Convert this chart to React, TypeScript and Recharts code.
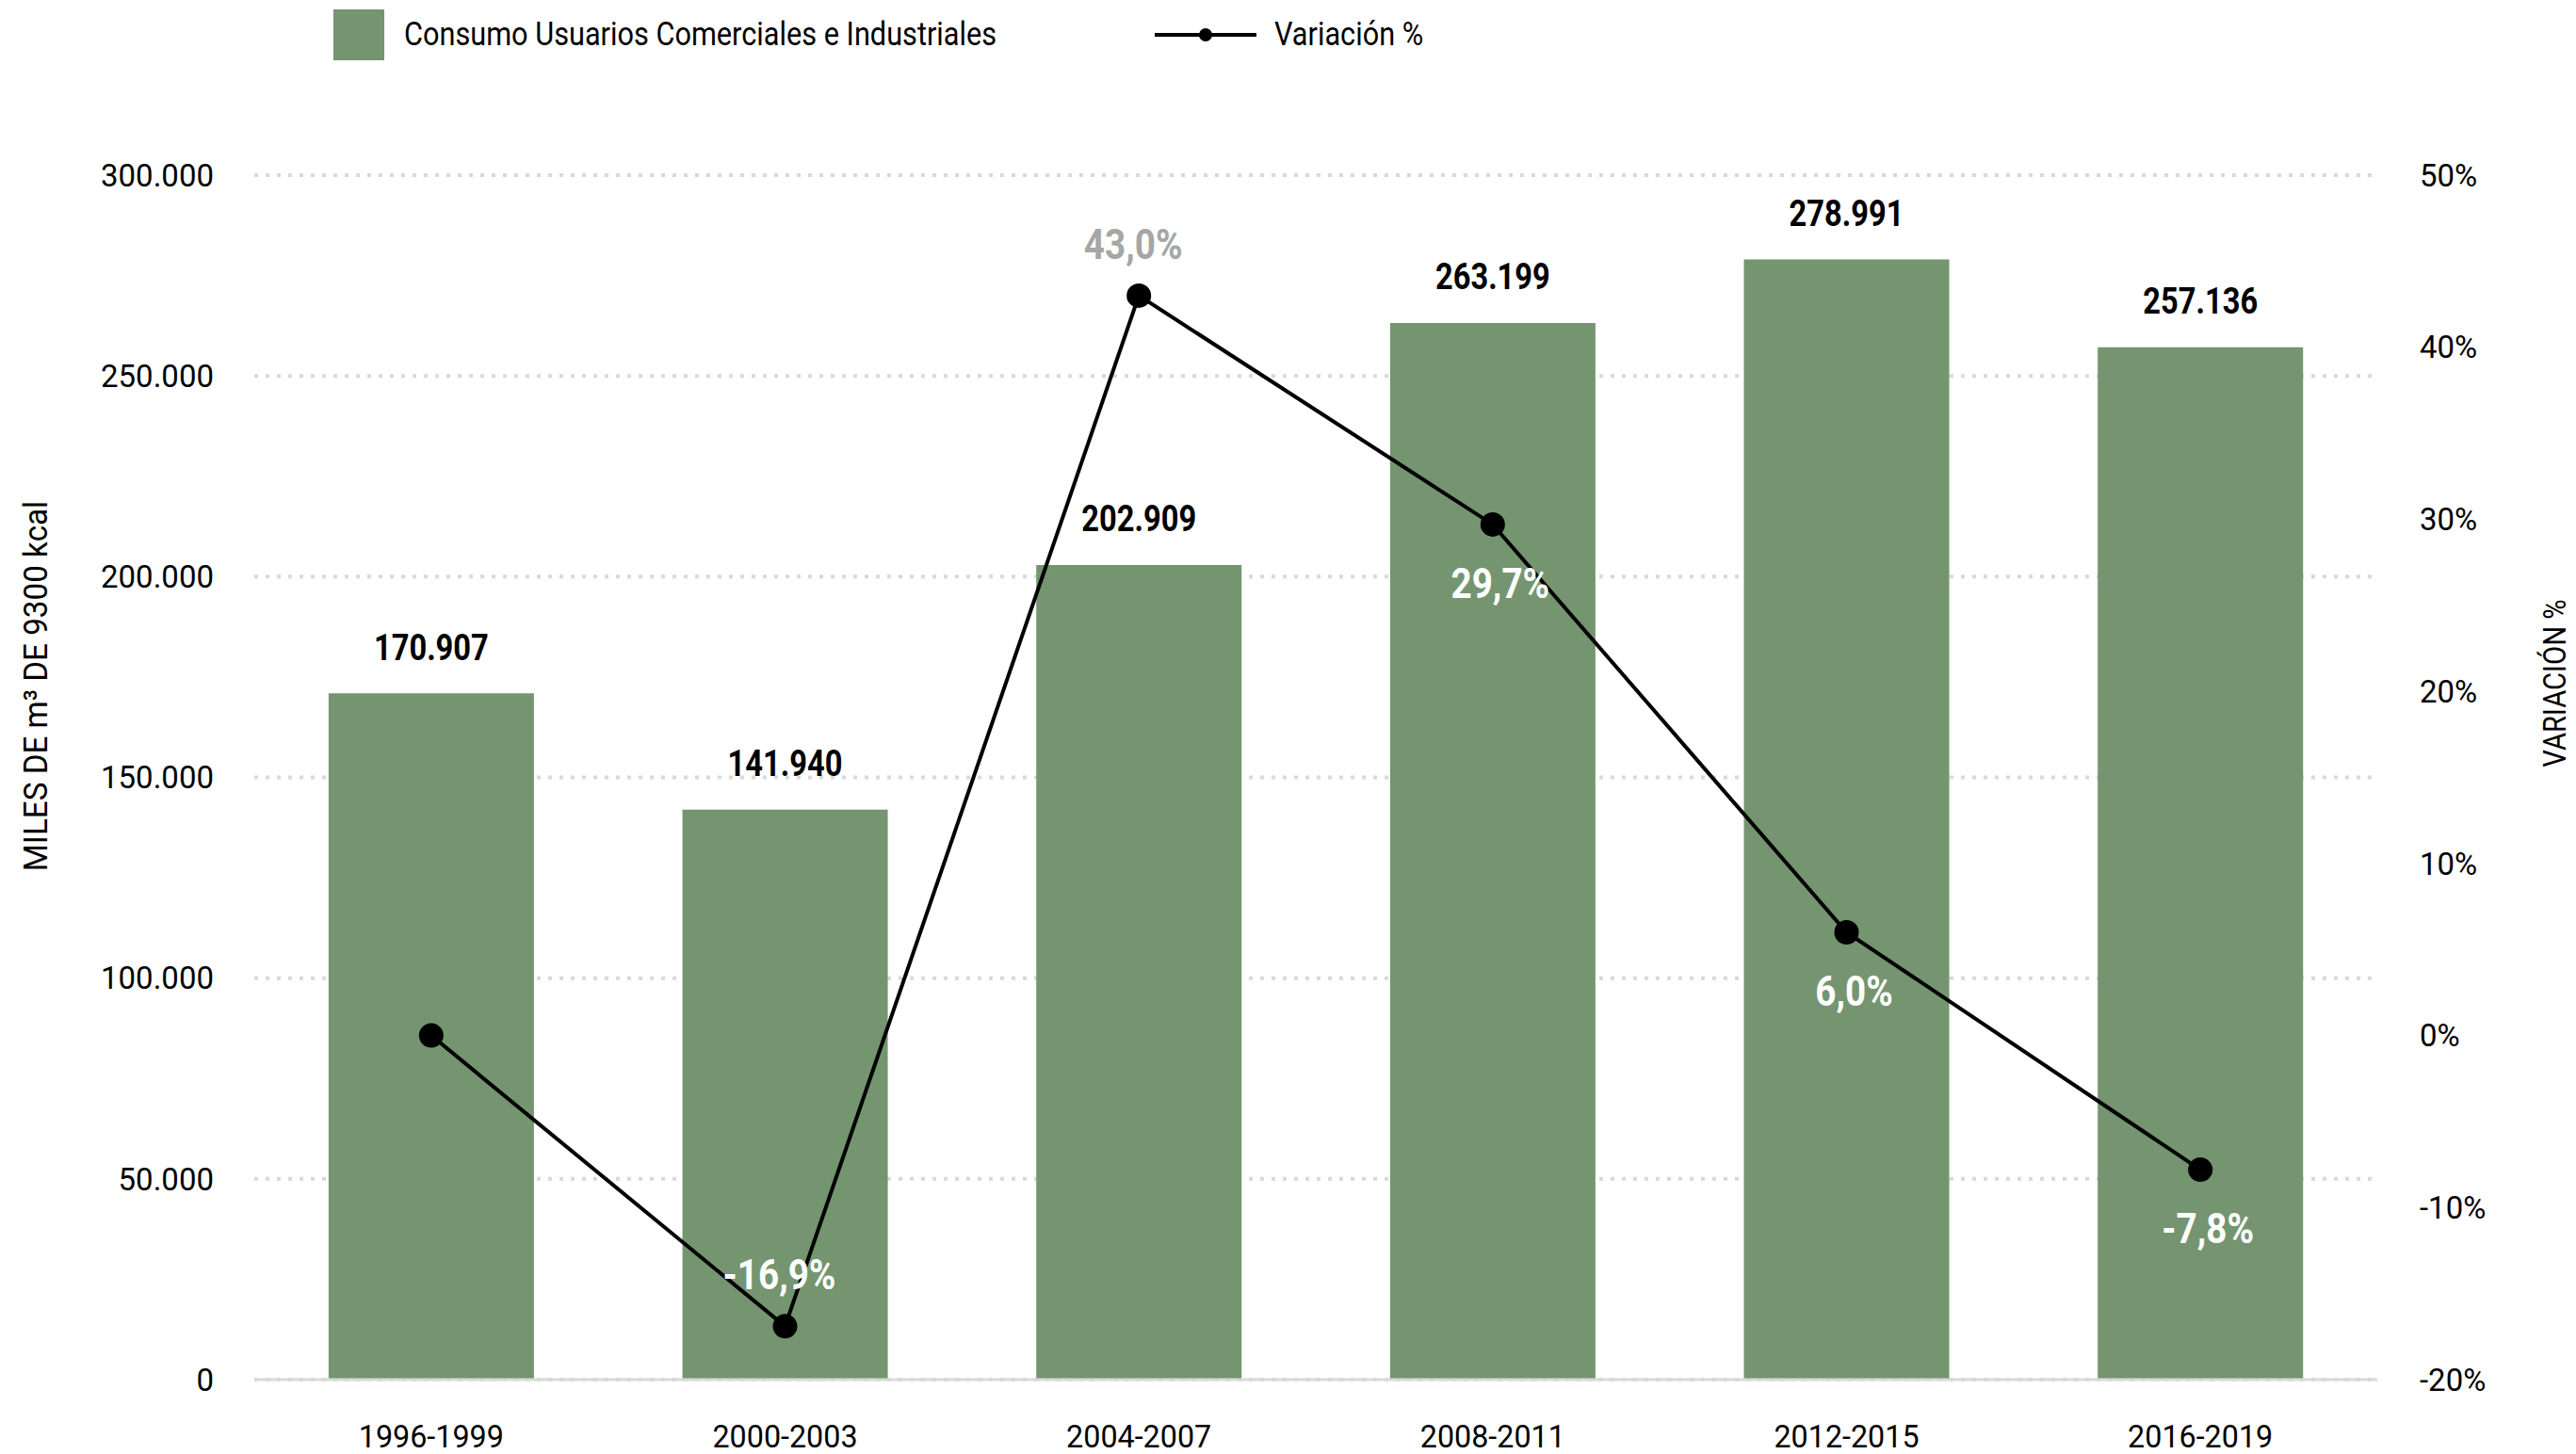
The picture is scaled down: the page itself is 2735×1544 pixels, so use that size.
import { ComposedChart, Bar, Line, XAxis, YAxis, CartesianGrid, Legend, LabelList } from 'recharts'

const periods = ['1996-1999', '2000-2003', '2004-2007', '2008-2011', '2012-2015', '2016-2019']
const consumo = [170907, 141940, 202909, 263199, 278991, 257136]
const variacion = [0, -16.9, 43.0, 29.7, 6.0, -7.8]
const leftTicks = [0, 50000, 100000, 150000, 200000, 250000, 300000]
const rightTicks = [-20, -10, 0, 10, 20, 30, 40, 50]

const data = periods.map((p, i) => ({ periodo: p, consumo: consumo[i], variacion: variacion[i] }))

const GREEN = '#74956f'
const FONT = "'Roboto', 'Liberation Sans', sans-serif"
// no condensed face installed, so squeeze Roboto horizontally
const SQUEEZE = 0.86

const fmtMiles = (v: number) => String(Math.round(v)).replace(/\B(?=(\d{3})+(?!\d))/g, '.')
const fmtPct = (v: number) => v.toFixed(1).replace('.', ',') + '%'

function NarrowText({ x, y, children, size, weight = 400, fill = '#000', anchor = 'middle', dy = '0.35em', rotate = 0, squeeze = SQUEEZE }: any) {
  return (
    <text
      transform={`translate(${x}, ${y}) rotate(${rotate}) scale(${squeeze}, 1)`}
      x={0}
      y={0}
      dy={dy}
      textAnchor={anchor}
      fontFamily={FONT}
      fontSize={size}
      fontWeight={weight}
      fill={fill}
    >
      {children}
    </text>
  )
}

const renderVarLabel = (props: any) => {
  const { x, y, value, index } = props
  if (index === 0) return null
  // first two labels sit above the marker
  const above = index === 1 || index === 2
  const fill = index === 2 ? '#a6a6a6' : '#ffffff'
  return (
    <NarrowText x={above ? x - 6 : x + 8} y={above ? y - 55 : y + 62} size={45} weight={700} fill={fill}>
      {fmtPct(value)}
    </NarrowText>
  )
}

const renderBarLabel = (props: any) => {
  const { x, y, width, value } = props
  return (
    <NarrowText x={x + width / 2} y={y - 49} size={38} weight={700}>
      {fmtMiles(Number(value))}
    </NarrowText>
  )
}

const renderXTick = (props: any) => {
  const { x, y, payload } = props
  return (
    <NarrowText x={x} y={y} size={34} dy="0.71em" squeeze={0.95}>
      {payload.value}
    </NarrowText>
  )
}

const narrowSpan = { display: 'inline-block', transform: 'scaleX(0.877)', transformOrigin: 'left center', whiteSpace: 'nowrap' as const }

const renderLegend = () => (
  <div style={{ position: 'relative', height: 54, width: 1400, fontFamily: FONT, fontSize: 35, color: '#000' }}>
    <span style={{ position: 'absolute', left: 0, top: 0, width: 54, height: 54, background: GREEN }} />
    <span style={{ ...narrowSpan, position: 'absolute', left: 75, top: 5, lineHeight: '44px' }}>
      Consumo Usuarios Comerciales e Industriales
    </span>
    <svg width={108} height={20} style={{ position: 'absolute', left: 872, top: 17 }}>
      <line x1={0} y1={10} x2={108} y2={10} stroke="#000" strokeWidth={4} />
      <circle cx={54} cy={10} r={7} fill="#000" />
    </svg>
    <span style={{ ...narrowSpan, position: 'absolute', left: 999, top: 5, lineHeight: '44px' }}>Variación %</span>
  </div>
)

export default function App() {
  return (
    <div style={{ position: 'absolute', left: 0, top: 0, background: '#fff' }}>
      <ComposedChart
        width={2735}
        height={1544}
        data={data}
        margin={{ top: 132, right: 0, bottom: 0, left: 0 }}
        barCategoryGap="21%"
      >
        <CartesianGrid yAxisId="left" vertical={false} stroke="#d9d9d9" strokeWidth={4} strokeDasharray="4 8" />
        <XAxis
          dataKey="periodo"
          height={79}
          axisLine={{ stroke: '#d9d9d9', strokeWidth: 3 }}
          tickLine={false}
          tickMargin={42}
          tick={renderXTick}
        />
        <YAxis
          yAxisId="left"
          width={270}
          domain={[0, 300000]}
          ticks={leftTicks}
          axisLine={false}
          tickLine={false}
          tickMargin={37}
          tickFormatter={fmtMiles}
          tick={{ fill: '#000', fontSize: 33, fontFamily: FONT }}
          label={{
            content: ({ viewBox }: any) => (
              <NarrowText x={38} y={viewBox.y + viewBox.height / 2 - 97} size={35} rotate={-90} squeeze={0.95}>
                MILES DE m³ DE 9300 kcal
              </NarrowText>
            ),
          }}
        />
        <YAxis
          yAxisId="right"
          orientation="right"
          width={211}
          domain={[-20, 50]}
          ticks={rightTicks}
          axisLine={false}
          tickLine={false}
          tickMargin={39}
          tickFormatter={(v: number) => `${v}%`}
          tick={{ fill: '#000', fontSize: 33, fontFamily: FONT }}
          label={{
            content: ({ viewBox }: any) => (
              <NarrowText x={2712} y={viewBox.y + viewBox.height / 2 - 100} size={34} rotate={-90}>
                VARIACIÓN %
              </NarrowText>
            ),
          }}
        />
        <Legend
          verticalAlign="top"
          align="left"
          content={renderLegend}
          wrapperStyle={{ top: 10, left: 354, width: 1400, height: 54 }}
        />
        <Bar yAxisId="left" dataKey="consumo" name="Consumo Usuarios Comerciales e Industriales" fill={GREEN} isAnimationActive={false}>
          <LabelList dataKey="consumo" content={renderBarLabel} />
        </Bar>
        <Line
          yAxisId="right"
          dataKey="variacion"
          name="Variación %"
          stroke="#000"
          strokeWidth={4}
          dot={{ r: 13, fill: '#000', stroke: '#000', strokeWidth: 0 }}
          isAnimationActive={false}
        >
          <LabelList dataKey="variacion" content={renderVarLabel} />
        </Line>
      </ComposedChart>
    </div>
  )
}
